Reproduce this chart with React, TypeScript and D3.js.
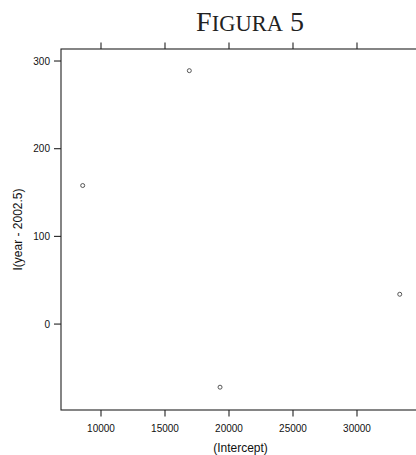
import React from "react";
import * as d3 from "d3";

const intercepts = [8570, 16900, 19300, 33340];
const slopes = [158, 289, -72, 34];
const xTicks = [10000, 15000, 20000, 25000, 30000];
const yTicks = [0, 100, 200, 300];
const xLabel = "(Intercept)";
const yLabel = "I(year - 2002.5)";

export default function App() {
  const W = 416, H = 455;
  const left = 61, right = 418, top = 49, bottom = 410;
  const x = d3.scaleLinear().domain([6875, 34766]).range([left, right]);
  const y = d3.scaleLinear().domain([-98, 313.7]).range([bottom, top]);
  const sans = "Liberation Sans, Arial, sans-serif";
  return (
    <div style={{ position: "absolute", left: 0, top: 0 }}>
      <svg width={W} height={H} style={{ display: "block", background: "#fff" }}>
        <text x={250} y={30.5} textAnchor="middle" fontFamily="Liberation Serif, Times New Roman, serif" fill="#222">
          <tspan fontSize={28}>F</tspan>
          <tspan fontSize={22.5}>IGURA</tspan>
          <tspan fontSize={28}> 5</tspan>
        </text>
        <rect x={left} y={top} width={right - left} height={bottom - top} fill="none" stroke="#222" strokeWidth={1.1} />
        {xTicks.map((t) => (
          <g key={"x" + t}>
            <line x1={x(t)} x2={x(t)} y1={bottom} y2={bottom + 6.5} stroke="#222" strokeWidth={1.1} />
            <line x1={x(t)} x2={x(t)} y1={top} y2={top - 6.5} stroke="#222" strokeWidth={1.1} />
            <text x={x(t)} y={432} textAnchor="middle" fontFamily={sans} fontSize={10} fill="#111">{t}</text>
          </g>
        ))}
        {yTicks.map((t) => (
          <g key={"y" + t}>
            <line x1={left} x2={left - 7} y1={y(t)} y2={y(t)} stroke="#222" strokeWidth={1.1} />
            <text x={50} y={y(t) + 3.5} textAnchor="end" fontFamily={sans} fontSize={10} fill="#111">{t}</text>
          </g>
        ))}
        <text x={240.5} y={451.5} textAnchor="middle" fontFamily={sans} fontSize={12} fill="#111">{xLabel}</text>
        <text transform={`translate(22,${(top + bottom) / 2}) rotate(-90)`} textAnchor="middle" fontFamily={sans} fontSize={12} fill="#111">{yLabel}</text>
        {intercepts.map((v, i) => (
          <circle key={i} cx={x(v)} cy={y(slopes[i])} r={2} fill="none" stroke="#444" strokeWidth={0.9} />
        ))}
      </svg>
    </div>
  );
}
